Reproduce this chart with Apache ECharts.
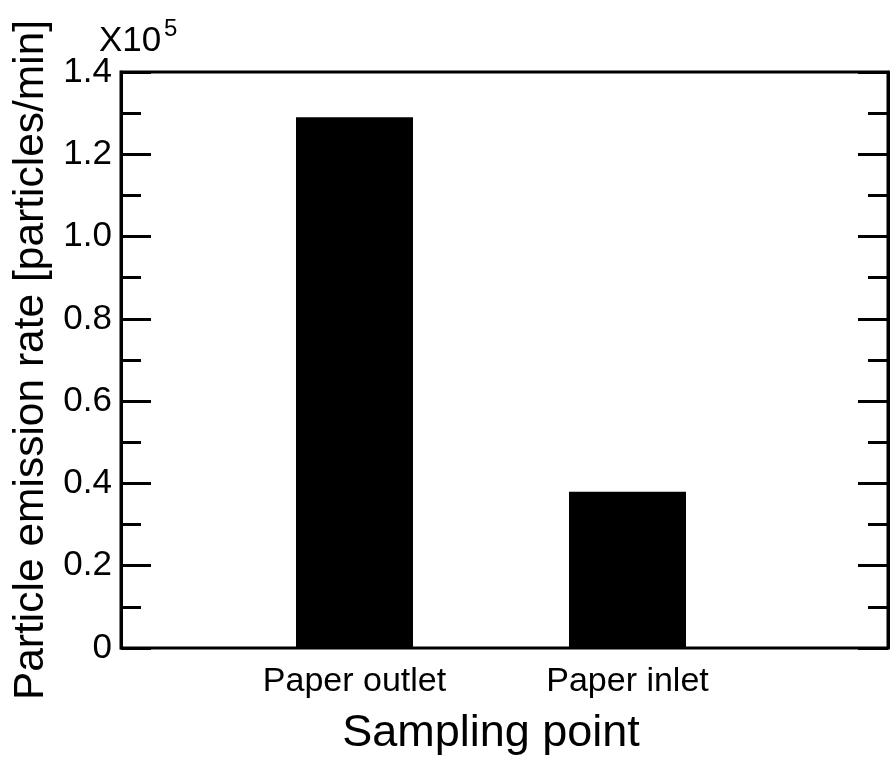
<!DOCTYPE html>
<html>
<head>
<meta charset="utf-8">
<script src="https://cdn.jsdelivr.net/npm/echarts@6/dist/echarts.min.js"></script>
<style>html,body{margin:0;padding:0;background:#fff}#c{width:895px;height:773px}</style>
</head>
<body>
<div id="c"></div>
<script>
const categories = ["Paper outlet", "Paper inlet"];
const emissionRate = [1.29, 0.38]; // x10^5 particles/min
const yTicks = [0, 0.2, 0.4, 0.6, 0.8, 1.0, 1.2, 1.4];

const FONT = '"Liberation Sans", Arial, Helvetica, sans-serif';
const chart = echarts.init(document.getElementById('c'), null, {renderer: 'canvas'});

const gridTop = 72, gridBottom = 125;
chart.setOption({
  animation: false,
  backgroundColor: '#fff',
  grid: [
    {left: 121, right: 7, top: gridTop, bottom: gridBottom, show: true, borderColor: '#000', borderWidth: 3, backgroundColor: 'transparent'},
    {left: 218, right: 131, top: gridTop, bottom: gridBottom}
  ],
  xAxis: [
    {type: 'value', gridIndex: 0, min: 0, max: 1, show: false},
    {
      type: 'category', gridIndex: 1, data: categories,
      axisLine: {show: false}, axisTick: {show: false},
      axisLabel: {color: '#000', fontFamily: FONT, fontSize: 34, margin: 17},
      name: 'Sampling point', nameLocation: 'middle', nameGap: 63,
      nameTextStyle: {color: '#000', fontFamily: FONT, fontSize: 45}
    }
  ],
  yAxis: [
    {
      type: 'value', gridIndex: 0, min: 0, max: 1.4, interval: 0.2,
      axisLine: {show: true, lineStyle: {color: '#000', width: 3}},
      axisTick: {show: true, inside: true, length: 30, lineStyle: {color: '#000', width: 3}},
      minorTick: {show: true, splitNumber: 2, length: 20, lineStyle: {color: '#000', width: 3}},
      splitLine: {show: false},
      axisLabel: {
        color: '#000', fontFamily: FONT, fontSize: 35, margin: 9,
        formatter: function (v) { return v === 0 ? '0' : v.toFixed(1); }
      },
      name: 'Particle emission rate [particles/min]', nameLocation: 'middle', nameGap: 65,
      nameTextStyle: {color: '#000', fontFamily: FONT, fontSize: 42.5}
    },
    {
      type: 'value', gridIndex: 0, position: 'right', min: 0, max: 1.4, interval: 0.2,
      axisLine: {show: true, lineStyle: {color: '#000', width: 3}},
      axisTick: {show: true, inside: true, length: 30, lineStyle: {color: '#000', width: 3}},
      minorTick: {show: true, splitNumber: 2, length: 20, lineStyle: {color: '#000', width: 3}},
      splitLine: {show: false},
      axisLabel: {show: false}
    },
    {type: 'value', gridIndex: 1, min: 0, max: 1.4, show: false}
  ],
  series: [{
    type: 'bar', xAxisIndex: 1, yAxisIndex: 2,
    data: emissionRate, barWidth: 117,
    itemStyle: {color: '#000'}
  }],
  graphic: [
    {type: 'text', left: 99, top: 24, style: {text: 'X10', font: '35px ' + FONT, fill: '#000'}},
    {type: 'text', left: 164, top: 17, style: {text: '5', font: '24px ' + FONT, fill: '#000'}}
  ]
});
</script>
</body>
</html>
